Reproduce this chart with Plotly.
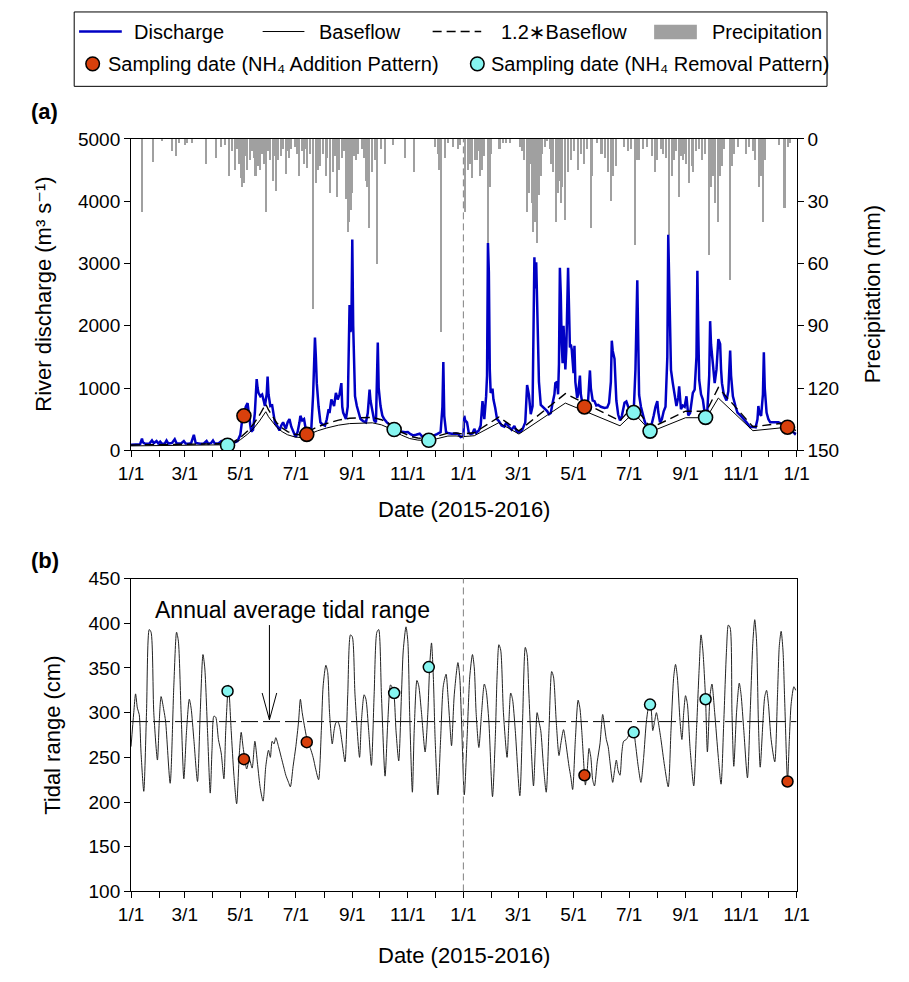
import pandas as pd
import plotly.graph_objects as go

W, H = 909, 982
START = pd.Timestamp("2015-01-01")
END = pd.Timestamp("2017-01-01")
FONT = "Liberation Sans, Arial, DejaVu Sans, sans-serif"

# ---------------- data ----------------
# Daily river discharge (m3/s), day offsets counted from 2015-01-01
discharge_2015_day = [0, 5, 10, 12, 13, 15, 20, 23, 25, 28, 30, 32, 34, 37, 39, 41, 45, 48, 50, 55,
                      58, 60, 63, 66, 69, 71, 76, 80, 83, 85, 88, 90, 92, 96, 99, 101, 104, 107,
                      110, 114, 117, 120, 122, 124, 126, 128, 129, 131, 132, 134, 136, 138, 139, 140,
                      142, 144, 146, 147, 149, 150, 151, 153, 155, 157, 158, 161, 163, 165, 167, 169,
                      170, 172, 174, 176, 178, 180, 181, 183, 185, 186, 188, 190, 192, 194, 196, 198,
                      200, 202, 203, 204, 206, 208, 210, 213, 215, 217, 218, 220, 222, 223, 225, 227,
                      229, 231, 232, 233, 236, 238, 240, 241, 242, 243, 244, 245, 246, 248, 250, 252,
                      255, 258, 260, 262, 263, 265, 267, 269, 271, 272, 274, 276, 278, 281, 285, 289,
                      292, 295, 298, 301, 304, 307, 310, 313, 317, 320, 324, 327, 330, 333, 336, 340,
                      342, 343, 344, 346, 348, 352, 356, 359, 362, 364]
discharge_2015 = [90, 95, 100, 190, 130, 110, 105, 160, 115, 150, 110, 140, 105, 110, 160, 110, 120, 180, 115, 110,
                  150, 110, 105, 115, 250, 120, 105, 110, 150, 105, 120, 160, 110, 110, 145, 105, 95, 83,
                  100, 130, 150, 250, 480, 560, 700, 760, 600, 400, 300, 330, 600, 1143, 1000, 922,
                  869, 895, 780, 712, 900, 1185, 900, 712, 722, 500, 450, 380, 319, 400, 450, 380,
                  345, 450, 502, 380, 293, 240, 215, 300, 450, 555, 480, 502, 330, 262, 300, 345,
                  900, 1812, 1500, 1079, 700, 450, 420, 398, 500, 660, 600, 817, 750, 712, 922, 817,
                  900, 1079, 700, 607, 502, 700, 2335, 1900, 2000, 3383, 2000, 1100, 869, 712, 600, 502,
                  470, 450, 600, 974, 800, 660, 480, 450, 1733, 1000, 712, 560, 502, 450, 400, 335,
                  310, 293, 300, 290, 293, 260, 240, 250, 267, 220, 188, 162, 200, 240, 260, 293,
                  700, 1420, 555, 293, 280, 267, 270, 267, 215, 225]
discharge_2016_day = [365, 366, 367, 369, 371, 373, 375, 377, 379, 382, 384, 386, 388, 390, 391, 392, 393, 394,
                      395, 397, 398, 400, 402, 404, 407, 410, 412, 415, 418, 421, 423, 425, 428, 430, 433,
                      435, 437, 439, 441, 443, 444, 445, 446, 447, 448, 450, 452, 455, 457, 459, 461, 463,
                      465, 466, 468, 469, 470, 471, 472, 473, 474, 475, 476, 477, 478, 480, 481, 482, 483,
                      484, 486, 487, 488, 490, 491, 493, 494, 496, 498, 500, 502, 504, 505, 507, 509, 511,
                      513, 516, 520, 523, 525, 527, 528, 529, 531, 532, 533, 535, 537, 539, 541, 542, 544,
                      546, 548, 550, 552, 554, 556, 557, 558, 560, 562, 564, 566, 568, 570, 572, 574, 576,
                      578, 579, 581, 583, 585, 587, 589, 590, 591, 592, 593, 595, 597, 599, 601, 602, 604,
                      606, 608, 610, 612, 614, 617, 619, 621, 622, 623, 624, 626, 628, 630, 631, 633, 635,
                      636, 637, 639, 641, 643, 645, 646, 647, 648, 649, 651, 652, 654, 656, 658, 659, 661,
                      664, 666, 670, 673, 676, 680, 683, 686, 688, 689, 690, 692, 694, 695, 696, 698, 700,
                      702, 706, 711, 715, 718, 721, 724, 727, 729, 730]
discharge_2016 = [230, 555, 480, 450, 280, 260, 270, 345, 280, 320, 400, 790, 500, 870, 1200, 3330, 2860, 1300,
                  920, 990, 820, 680, 500, 470, 400, 380, 445, 380, 330, 393, 320, 290, 300, 340, 450,
                  1050, 890, 580, 710, 3100, 2600, 3020, 2200, 1500, 1100, 730, 700, 660, 630, 580, 600, 760,
                  900, 1080, 1100, 900, 1390, 2930, 2500, 1700, 1400, 2000, 1500, 1300, 1600, 2930, 2300, 1650, 1700,
                  1620, 1240, 1680, 1100, 840, 900, 1200, 900, 730, 698, 720, 800, 1283, 1000, 800, 790, 720,
                  730, 700, 680, 690, 760, 1100, 1760, 1600, 1470, 1200, 800, 576, 480, 550, 700, 764, 786,
                  700, 660, 620, 602, 1300, 2730, 1400, 890, 700, 560, 470, 400, 340, 309, 420, 555, 700,
                  790, 620, 450, 500, 628, 700, 1500, 3460, 2700, 1700, 1290, 1080, 900, 712, 850, 1027, 660,
                  720, 700, 869, 560, 600, 922, 974, 1500, 2885, 1900, 1131, 900, 817, 600, 529, 650, 1200,
                  2074, 1700, 1393, 1079, 1300, 1786, 1750, 1707, 1300, 1079, 900, 869, 800, 950, 1602, 1200, 869,
                  700, 607, 550, 502, 450, 372, 380, 372, 500, 712, 600, 555, 900, 1576, 1000, 607, 500,
                  450, 450, 450, 420, 400, 372, 340, 300, 267, 290]

# Baseflow (m3/s); the dashed curve is 1.2 x baseflow
baseflow_day = [0, 30, 60, 90, 105, 112, 120, 128, 135, 141, 146, 148, 151, 155, 160, 166, 172, 180, 187,
                195, 205, 215, 228, 240, 255, 265, 275, 283, 290, 297, 306, 315, 327, 338, 348, 357, 364,
                377, 404, 426, 477, 537, 552, 571, 609, 632, 645, 683, 721, 730]
baseflow = [72, 75, 78, 82, 90, 110, 170, 260, 360, 470, 580, 620, 540, 460, 370, 300, 250, 215, 205,
            255, 315, 360, 405, 430, 442, 442, 410, 360, 300, 245, 190, 165, 155, 190, 230, 232, 220,
            235, 445, 262, 759, 395, 602, 300, 524, 524, 840, 316, 372, 262]

# Daily precipitation (mm)
precip_day = [12, 24, 34, 45, 50, 53, 60, 62, 67, 83, 94, 99, 104, 108, 111, 115, 117, 119, 121, 122, 124, 126,
              128, 131, 133, 135, 137, 140, 142, 144, 146, 149, 151, 153, 156, 158, 160, 162, 165, 167, 170,
              172, 174, 176, 180, 183, 185, 188, 190, 192, 194, 197, 200, 203, 205, 206, 208, 211, 214, 216,
              219, 222, 224, 226, 229, 232, 234, 236, 238, 239, 240, 242, 243, 245, 247, 250, 254, 256, 258,
              259, 262, 265, 268, 270, 275, 279, 288, 301, 311, 334, 337, 339, 341, 345, 348, 354, 359, 362,
              367, 370, 373, 375, 378, 380, 382, 384, 386, 388, 392, 394, 396, 405, 409, 412, 416, 428, 430,
              432, 435, 437, 439, 441, 442, 444, 446, 448, 450, 452, 455, 457, 460, 462, 464, 467, 469, 471,
              473, 474, 477, 480, 483, 487, 491, 494, 498, 501, 505, 507, 512, 517, 521, 524, 527, 530, 533,
              542, 546, 549, 554, 556, 558, 563, 567, 572, 576, 578, 582, 585, 588, 591, 594, 597, 599, 602,
              604, 606, 608, 610, 613, 616, 618, 621, 624, 627, 631, 635, 637, 639, 642, 645, 647, 649, 652,
              658, 660, 663, 667, 676, 679, 683, 686, 690, 692, 694, 697, 712, 718, 722, 724]
precip_mm = [35, 11, 1, 6, 8, 2, 3, 2, 2, 12, 9, 4, 3, 18, 6, 15, 5, 12, 19, 23, 21, 8,
             15, 10, 6, 9, 18, 13, 15, 7, 12, 35, 6, 10, 20, 8, 25, 10, 8, 5, 17,
             6, 9, 5, 4, 7, 18, 6, 12, 5, 14, 7, 82, 21, 9, 15, 13, 7, 18, 9,
             26, 16, 8, 28, 15, 9, 6, 29, 12, 45, 40, 34, 26, 8, 10, 7, 5, 9, 20,
             23, 43, 16, 10, 60, 5, 12, 3, 9, 16, 4, 7, 15, 93, 9, 2, 4, 5, 3,
             35, 15, 12, 19, 10, 10, 6, 18, 15, 8, 62, 23, 7, 5, 2, 2, 2, 4, 6,
             10, 35, 26, 12, 31, 45, 40, 50, 27, 18, 7, 4, 1, 5, 12, 16, 40, 26, 20,
             31, 23, 39, 16, 10, 6, 15, 7, 12, 5, 43, 18, 2, 7, 9, 16, 30, 18, 13,
             4, 6, 5, 51, 10, 10, 5, 4, 8, 16, 10, 5, 7, 9, 46, 18, 10, 6, 28,
             8, 10, 7, 12, 21, 13, 16, 6, 5, 10, 7, 56, 23, 18, 31, 40, 18, 13, 5,
             68, 13, 7, 4, 7, 4, 6, 10, 23, 18, 40, 10, 3, 33, 4, 2]

# Daily tidal range (cm)
tide_day = [0, 3, 5, 7, 9, 11, 14, 17, 20, 22, 25, 29, 31, 33, 36, 38, 43, 47, 50, 52, 55, 58, 61, 64, 66,
            69, 73, 76, 79, 81, 84, 87, 89, 91, 93, 96, 99, 102, 104, 107, 110, 113, 116, 119, 121, 123,
            125, 127, 130, 133, 136, 139, 142, 145, 148, 151, 153, 155, 157, 159, 162, 165, 168, 170, 173,
            175, 178, 181, 184, 186, 188, 191, 194, 197, 200, 203, 206, 209, 211, 214, 216, 218, 221, 223,
            225, 227, 229, 232, 235, 238, 241, 243, 246, 251, 253, 256, 258, 261, 264, 267, 270, 272, 275,
            279, 282, 285, 287, 289, 291, 294, 297, 299, 302, 304, 306, 309, 311, 314, 316, 319, 323, 326,
            328, 330, 332, 334, 337, 340, 343, 346, 348, 350, 352, 355, 359, 361, 363, 366, 369, 372, 375,
            377, 379, 382, 385, 388, 390, 393, 397, 400, 402, 404, 406, 409, 413, 415, 417, 419, 422, 427,
            430, 433, 435, 437, 442, 444, 446, 448, 450, 453, 456, 459, 462, 464, 467, 470, 472, 475, 477,
            479, 481, 483, 485, 488, 491, 493, 495, 498, 499, 501, 503, 505, 507, 509, 512, 515, 518, 520,
            522, 524, 526, 529, 531, 533, 535, 537, 539, 541, 544, 547, 550, 552, 554, 557, 560, 563, 566,
            569, 571, 573, 575, 577, 579, 582, 586, 590, 593, 596, 598, 600, 603, 605, 607, 609, 611, 614,
            618, 621, 624, 626, 628, 631, 633, 636, 638, 641, 645, 648, 651, 654, 656, 658, 660, 662, 665,
            668, 670, 673, 677, 680, 683, 685, 687, 689, 691, 694, 696, 698, 700, 703, 707, 710, 712, 714,
            716, 718, 721, 723, 725, 728, 730]
tide_cm = [262, 300, 321, 305, 298, 255, 212, 300, 393, 390, 300, 247, 290, 318, 303, 290, 221, 330, 390, 380, 300, 226, 280, 315, 305,
           270, 223, 300, 365, 350, 280, 210, 260, 296, 295, 270, 255, 226, 280, 331, 280, 230, 198, 255, 278, 262,
           248, 237, 248, 238, 268, 242, 215, 201, 240, 258, 250, 268, 265, 272, 262, 250, 238, 230, 222,
           217, 240, 262, 290, 315, 300, 282, 267, 260, 250, 236, 225, 280, 330, 353, 345, 300, 265, 280,
           289, 290, 285, 265, 245, 320, 387, 385, 320, 250, 290, 320, 315, 280, 241, 320, 390, 393, 320,
           229, 290, 331, 328, 318, 280, 246, 320, 370, 396, 380, 300, 211, 280, 336, 330, 300, 256, 300,
           352, 378, 340, 270, 208, 270, 330, 343, 320, 290, 263, 320, 356, 340, 290, 208, 270, 340, 365,
           350, 300, 261, 300, 332, 325, 290, 206, 270, 340, 376, 370, 300, 250, 290, 322, 315, 280, 207,
           290, 373, 365, 320, 218, 260, 300, 290, 280, 240, 211, 280, 346, 340, 290, 252, 265, 281, 270,
           255, 240, 228, 214, 270, 314, 305, 280, 230, 219, 235, 260, 250, 225, 218, 245, 265, 298, 285,
           270, 262, 245, 222, 235, 247, 235, 230, 255, 268, 270, 275, 278, 278, 265, 240, 222, 250, 290,
           309, 305, 280, 290, 300, 290, 270, 240, 217, 280, 340, 354, 340, 290, 270, 300, 319, 310, 260,
           218, 280, 350, 387, 370, 315, 256, 320, 332, 300, 250, 220, 290, 370, 398, 395, 300, 240, 300,
           333, 320, 280, 227, 300, 380, 404, 380, 290, 239, 290, 318, 325, 310, 270, 245, 320, 375, 391,
           370, 310, 224, 270, 310, 329, 325]
annual_mean_tide = 290

# Sampling dates
addition_dates = ["2015-05-05", "2015-07-13", "2016-05-13", "2016-12-22"]
addition_q = [555, 256, 697, 372]
addition_tide = [248, 267, 230, 223]
removal_dates = ["2015-04-17", "2015-10-17", "2015-11-24", "2016-07-06", "2016-07-24", "2016-09-23"]
removal_q = [83, 335, 162, 607, 309, 529]
removal_tide = [324, 322, 351, 278, 309, 315]

month_ticks = pd.date_range("2015-01-01", "2017-01-01", freq="MS")
label_ticks = pd.date_range("2015-01-01", "2017-01-01", freq="2MS")
label_text = [f"{d.month}/{d.day}" for d in label_ticks]

# ---------------- helpers ----------------
def to_dates(days):
    return [START + pd.Timedelta(days=float(d)) for d in days]

def fx(px):
    return px / W

def fy(py):
    return 1 - py / H

X0, X1 = 121.5, 806.7
A_TOP, A_BOT = 131.7, 450.0
B_TOP, B_BOT = 581.0, 900.7

BLUE = "#0000c4"
RED = "#d8400c"
CYAN = "#86f5f0"
GREY = "#a0a0a0"

fig = go.Figure()

# Panel (a)
fig.add_trace(go.Bar(x=to_dates(precip_day), y=precip_mm, yaxis="y", xaxis="x",
                     marker=dict(color=GREY, line=dict(width=0)), width=1.7 * 86400000,
                     showlegend=False))
fig.add_trace(go.Scatter(x=to_dates(discharge_2015_day + discharge_2016_day),
                         y=discharge_2015 + discharge_2016, yaxis="y2", xaxis="x",
                         mode="lines", line=dict(color=BLUE, width=2.5), showlegend=False))
fig.add_trace(go.Scatter(x=to_dates(baseflow_day), y=baseflow, yaxis="y2", xaxis="x",
                         mode="lines", line=dict(color="black", width=1), showlegend=False))
fig.add_trace(go.Scatter(x=to_dates(baseflow_day), y=[1.2 * b for b in baseflow], yaxis="y2", xaxis="x",
                         mode="lines", line=dict(color="black", width=1.4, dash="9px,5px"),
                         showlegend=False))
fig.add_trace(go.Scatter(x=addition_dates, y=addition_q, yaxis="y2", xaxis="x", mode="markers",
                         marker=dict(size=14, color=RED, line=dict(color="black", width=1.6)),
                         showlegend=False))
fig.add_trace(go.Scatter(x=removal_dates, y=removal_q, yaxis="y2", xaxis="x", mode="markers",
                         marker=dict(size=14, color=CYAN, line=dict(color="black", width=1.6)),
                         showlegend=False))

# Panel (b)
fig.add_trace(go.Scatter(x=[START, END], y=[annual_mean_tide, annual_mean_tide], xaxis="x2", yaxis="y3",
                         mode="lines", line=dict(color="black", width=1, dash="17px,5px"),
                         showlegend=False))
fig.add_trace(go.Scatter(x=to_dates(tide_day), y=tide_cm, xaxis="x2", yaxis="y3", mode="lines",
                         line=dict(color="#222222", width=1, shape="spline", smoothing=0.7),
                         showlegend=False))
fig.add_trace(go.Scatter(x=addition_dates, y=addition_tide, xaxis="x2", yaxis="y3", mode="markers",
                         marker=dict(size=11, color=RED, line=dict(color="black", width=1.5)),
                         showlegend=False))
fig.add_trace(go.Scatter(x=removal_dates, y=removal_tide, xaxis="x2", yaxis="y3", mode="markers",
                         marker=dict(size=11, color=CYAN, line=dict(color="black", width=1.5)),
                         showlegend=False))

tick_font = dict(family=FONT, size=19, color="black")
xcommon = dict(range=[START, END], tickmode="array", tickvals=list(label_ticks), ticktext=label_text,
               ticks="outside", ticklen=6, tickwidth=1, tickcolor="black",
               minor=dict(tickmode="array", tickvals=list(month_ticks), ticks="outside", ticklen=6,
                          tickcolor="black", tickwidth=1),
               showline=True, linecolor="black", linewidth=1, mirror=True, showgrid=False,
               zeroline=False, tickfont=tick_font, domain=[fx(X0), fx(X1)])
ycommon = dict(ticks="outside", ticklen=6, tickwidth=1, tickcolor="black", showline=True,
               linecolor="black", linewidth=1, showgrid=False, zeroline=False, tickfont=tick_font)

fig.update_layout(
    width=W, height=H, autosize=False,
    margin=dict(l=0, r=0, t=0, b=0),
    paper_bgcolor="white", plot_bgcolor="white",
    font=dict(family=FONT, size=19, color="black"),
    showlegend=False, bargap=0,
    xaxis=dict(anchor="y", **xcommon),
    yaxis=dict(domain=[fy(A_BOT), fy(A_TOP)], anchor="x", side="right", range=[150, 0],
               tickvals=[0, 30, 60, 90, 120, 150], **ycommon),
    yaxis2=dict(overlaying="y", anchor="x", side="left", range=[0, 5000],
                tickvals=[0, 1000, 2000, 3000, 4000, 5000], **ycommon),
    xaxis2=dict(anchor="y3", **xcommon),
    yaxis3=dict(domain=[fy(B_BOT), fy(B_TOP)], anchor="x2", range=[100, 450], mirror=True,
                tickvals=[100, 150, 200, 250, 300, 350, 400, 450], **ycommon),
)

shapes = []
# 1 January 2016 separators
shapes.append(dict(type="line", xref="x", yref="y domain", x0="2016-01-01", x1="2016-01-01", y0=0, y1=1,
                   line=dict(color="#808080", width=1, dash="7px,4px")))
shapes.append(dict(type="line", xref="x2", yref="y3 domain", x0="2016-01-01", x1="2016-01-01", y0=0, y1=1,
                   line=dict(color="#808080", width=1, dash="7px,4px")))
# arrow pointing at the annual mean line
arrow_x = START + pd.Timedelta(days=152)
shapes.append(dict(type="line", xref="x2", yref="y3", x0=arrow_x, x1=arrow_x, y0=398, y1=annual_mean_tide + 2,
                   line=dict(color="black", width=1)))
for side in (-8, 8):
    shapes.append(dict(type="line", xref="x2", yref="y3", x0=arrow_x + pd.Timedelta(days=side), x1=arrow_x,
                       y0=322, y1=annual_mean_tide + 2, line=dict(color="black", width=1)))

# legend frame and keys
LEG = dict(x0=63, x1=838, y0=2, y1=78)
shapes.append(dict(type="rect", xref="paper", yref="paper", x0=fx(LEG["x0"]), x1=fx(LEG["x1"]),
                   y0=fy(LEG["y1"]), y1=fy(LEG["y0"]), line=dict(color="black", width=1),
                   fillcolor="rgba(0,0,0,0)"))
r1, r2 = 22, 55
shapes.append(dict(type="line", xref="paper", yref="paper", x0=fx(68), x1=fx(112), y0=fy(r1), y1=fy(r1),
                   line=dict(color=BLUE, width=2.5)))
shapes.append(dict(type="line", xref="paper", yref="paper", x0=fx(257), x1=fx(300), y0=fy(r1), y1=fy(r1),
                   line=dict(color="black", width=1)))
shapes.append(dict(type="line", xref="paper", yref="paper", x0=fx(432), x1=fx(482), y0=fy(r1), y1=fy(r1),
                   line=dict(color="black", width=1.4, dash="9px,5px")))
shapes.append(dict(type="rect", xref="paper", yref="paper", x0=fx(660), x1=fx(704), y0=fy(30), y1=fy(15),
                   line=dict(width=0), fillcolor=GREY))
for cx, col in ((82, RED), (478, CYAN)):
    shapes.append(dict(type="circle", xref="paper", yref="paper", x0=fx(cx - 7), x1=fx(cx + 7),
                       y0=fy(r2 + 7), y1=fy(r2 - 7), fillcolor=col, line=dict(color="black", width=1.5)))
fig.update_layout(shapes=shapes)

ann = []
def text(x, y, s, size=20, xanchor="left", angle=0, bold=False):
    ann.append(dict(xref="paper", yref="paper", x=fx(x), y=fy(y), text=f"<b>{s}</b>" if bold else s,
                    showarrow=False, xanchor=xanchor, yanchor="middle", textangle=angle,
                    font=dict(family=FONT, size=size, color="black")))

text(123, r1, "Discharge")
text(313, r1, "Baseflow")
text(500, r1, "1.2∗Baseflow")
text(718, r1, "Precipitation")
text(96, r2, "Sampling date (NH₄ Addition Pattern)")
text(490, r2, "Sampling date (NH₄ Removal Pattern)")
text(16, 104, "(a)", size=22, bold=True)
text(16, 563, "(b)", size=22, bold=True)
text(32, (A_TOP + A_BOT) / 2, "River discharge (m³ s⁻¹)", size=22, xanchor="center", angle=-90)
text(885, (A_TOP + A_BOT) / 2, "Precipitation (mm)", size=22, xanchor="center", angle=-90)
text((X0 + X1) / 2, 510, "Date (2015-2016)", size=22, xanchor="center")
text(40, (B_TOP + B_BOT) / 2, "Tidal range (cm)", size=22, xanchor="center", angle=-90)
text((X0 + X1) / 2, 966, "Date (2015-2016)", size=22, xanchor="center")
text(288, 613, "Annual average tidal range", size=23, xanchor="center")
fig.update_layout(annotations=ann)

# the page body keeps no default margin so the figure fills the window exactly
fig.write_html("out.html", post_script="document.body.style.margin='0px';"
                                       "document.body.style.overflow='hidden';")
